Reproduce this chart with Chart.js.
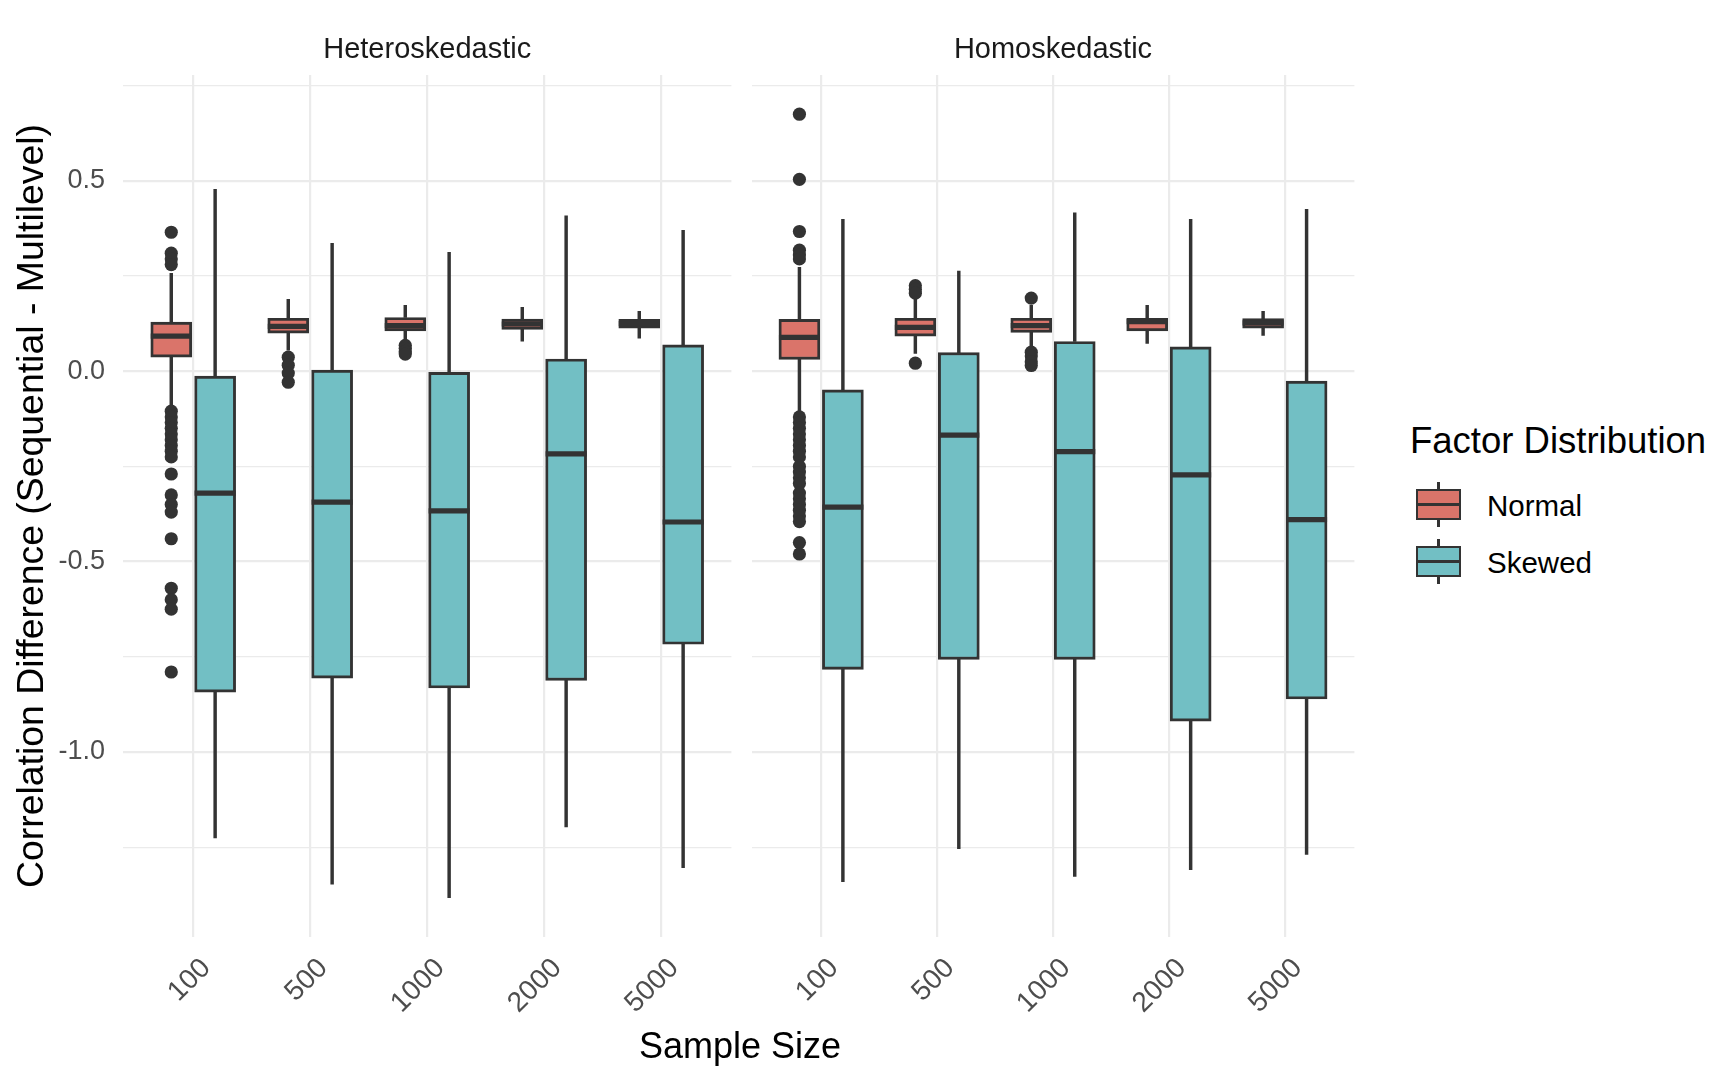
<!DOCTYPE html>
<html>
<head>
<meta charset="utf-8">
<script src="https://cdn.jsdelivr.net/npm/chart.js@4.4.0/dist/chart.umd.min.js"></script>
<style>
  body { margin: 0; background: #fff; }
  #page { position: relative; width: 1730px; height: 1072px; overflow: hidden; background: #fff;
          font-family: "Liberation Sans", Arial, sans-serif; }
  canvas { position: absolute; top: 0; }
  .txt { position: absolute; white-space: nowrap; color: #000; }
  #yTitle { left: -420px; top: 486px; width: 900px; height: 40px; line-height: 40px; font-size: 37.4px;
            text-align: center; transform: rotate(-90deg); }
  #xTitle { left: 0; top: 1028px; width: 1480px; font-size: 36px; line-height: 36px; text-align: center; }
  #legendTitle { left: 1410px; top: 423px; font-size: 36.5px; line-height: 36px; }
  .key { position: absolute; width: 45px; height: 45px; }
  .key .whisk { position: absolute; left: 21.2px; width: 2.8px; top: 0; height: 45px; background: #333; }
  .key .box { position: absolute; left: 0; top: 7px; width: 45px; height: 31px; box-sizing: border-box;
              border: 2.9px solid #333; }
  .key .mid { position: absolute; left: 0; width: 45px; top: 21px; height: 2.9px; background: #333; }
  .keyLabel { position: absolute; left: 1487px; font-size: 29.5px; line-height: 28px; }
</style>
</head>
<body>
<div id="page">
  <canvas id="heteroChart" width="738" height="1072" style="left:0"></canvas>
  <canvas id="homoChart" width="616" height="1072" style="left:745px"></canvas>
  <div class="txt" id="yTitle">Correlation Difference (Sequential - Multilevel)</div>
  <div class="txt" id="xTitle">Sample Size</div>
  <div class="txt" id="legendTitle">Factor Distribution</div>
</div>
<script>
const sampleSizes = ['100', '500', '1000', '2000', '5000'];
const groups = ['Normal', 'Skewed'];
const yBreaks = [-1.0, -0.5, 0.0, 0.5];
const yMinorBreaks = [-1.25, -0.75, -0.25, 0.25, 0.75];

// [lower whisker, Q1, median, Q3, upper whisker] for each sample size
const heteroNormal = [
  [-0.094, 0.037, 0.092, 0.129, 0.257],
  [0.055, 0.100, 0.118, 0.139, 0.189],
  [0.081, 0.106, 0.120, 0.141, 0.173],
  [0.079, 0.110, 0.124, 0.137, 0.168],
  [0.087, 0.113, 0.125, 0.136, 0.157]
];
const heteroSkewed = [
  [-1.226, -0.843, -0.320, -0.013, 0.478],
  [-1.347, -0.806, -0.344, 0.003, 0.336],
  [-1.383, -0.832, -0.367, -0.003, 0.312],
  [-1.197, -0.812, -0.217, 0.032, 0.408],
  [-1.304, -0.717, -0.396, 0.069, 0.370]
];
const homoNormal = [
  [-0.110, 0.031, 0.089, 0.136, 0.273],
  [0.047, 0.092, 0.115, 0.139, 0.195],
  [0.064, 0.102, 0.120, 0.139, 0.173],
  [0.073, 0.106, 0.130, 0.139, 0.173],
  [0.094, 0.113, 0.127, 0.138, 0.157]
];
const homoSkewed = [
  [-1.341, -0.783, -0.357, -0.049, 0.399],
  [-1.254, -0.757, -0.168, 0.049, 0.263],
  [-1.327, -0.757, -0.211, 0.078, 0.416],
  [-1.309, -0.919, -0.272, 0.064, 0.399],
  [-1.269, -0.861, -0.390, -0.026, 0.425]
];

// outlying points per sample size
const heteroNormalOutliers = [
  [0.365, 0.310, 0.295, 0.280, -0.105, -0.120, -0.135, -0.150, -0.165, -0.180, -0.195, -0.210, -0.225,
   -0.270, -0.325, -0.350, -0.370, -0.440, -0.570, -0.600, -0.625, -0.790],
  [0.037, 0.016, -0.005, -0.029],
  [0.068, 0.060, 0.052, 0.045],
  [],
  []
];
const homoNormalOutliers = [
  [0.675, 0.504, 0.367, 0.318, 0.305, 0.295, -0.120, -0.135, -0.150, -0.165, -0.180, -0.195, -0.210,
   -0.225, -0.250, -0.265, -0.280, -0.295, -0.320, -0.335, -0.350, -0.365, -0.380, -0.395, -0.450, -0.480],
  [0.225, 0.215, 0.205, 0.021],
  [0.192, 0.050, 0.040, 0.025, 0.015],
  [],
  []
];
const noOutliers = [[], [], [], [], []];

const FONT = '"Liberation Sans", Arial, sans-serif';
const fills = { Normal: '#DA746A', Skewed: '#72BFC4' };
const dodge = { Normal: -0.1875, Skewed: 0.1875 };
const INK = '#333333';
const Y_MIN = -1.486, Y_MAX = 0.778;

// median bars on top of the boxes
const medianLines = {
  id: 'medianLines',
  afterDatasetsDraw(chart) {
    const { ctx, scales: { y } } = chart;
    chart.data.datasets.forEach((ds, di) => {
      if (!ds.medians) return;
      chart.getDatasetMeta(di).data.forEach((bar, i) => {
        const py = y.getPixelForValue(ds.medians[i]);
        ctx.save();
        ctx.strokeStyle = INK;
        ctx.lineWidth = 5.2;
        ctx.beginPath();
        ctx.moveTo(bar.x - bar.width / 2, py);
        ctx.lineTo(bar.x + bar.width / 2, py);
        ctx.stroke();
        ctx.restore();
      });
    });
  }
};

// facet strip label above the panel
const panelStrip = {
  id: 'panelStrip',
  afterDraw(chart, args, opts) {
    const { ctx, chartArea } = chart;
    ctx.save();
    ctx.font = '29px ' + FONT;
    ctx.fillStyle = '#1a1a1a';
    ctx.textAlign = 'center';
    ctx.textBaseline = 'middle';
    ctx.fillText(opts.text, (chartArea.left + chartArea.right) / 2, chartArea.top - 25);
    ctx.restore();
  }
};

function groupDatasets(name, stats, outliers) {
  const shift = dodge[name];
  return [
    {
      type: 'bar', label: name + ' whiskers', order: 3,
      data: stats.flatMap((s, i) => [{ x: i + 1 + shift, y: [s[0], s[1]] }, { x: i + 1 + shift, y: [s[3], s[4]] }]),
      backgroundColor: INK, borderWidth: 0, barThickness: 2.8, grouped: false
    },
    {
      type: 'bar', label: name, order: 2,
      data: stats.map((s, i) => ({ x: i + 1 + shift, y: [s[1], s[3]] })),
      medians: stats.map(s => s[2]),
      backgroundColor: fills[name], borderColor: INK, borderWidth: 2.9, borderSkipped: false,
      barThickness: 41, grouped: false
    },
    {
      type: 'scatter', label: name + ' outliers', order: 1,
      data: outliers.flatMap((pts, i) => pts.map(v => ({ x: i + 1 + shift, y: v }))),
      backgroundColor: INK, borderWidth: 0, pointRadius: 6.6
    }
  ];
}

function makePanel(canvasId, title, normal, skewed, normalOut, skewedOut, yWidth) {
  new Chart(document.getElementById(canvasId), {
    type: 'bar',
    data: {
      datasets: [
        ...groupDatasets('Normal', normal, normalOut),
        ...groupDatasets('Skewed', skewed, skewedOut)
      ]
    },
    plugins: [medianLines, panelStrip],
    options: {
      responsive: false,
      animation: false,
      layout: { padding: { top: 75, left: 0, right: 0, bottom: 0 } },
      plugins: { legend: { display: false }, tooltip: { enabled: false }, panelStrip: { text: title } },
      scales: {
        x: {
          type: 'linear', min: 0.4, max: 5.6, offset: false,
          afterBuildTicks: s => { s.ticks = sampleSizes.map((_, i) => ({ value: i + 1 })); },
          afterFit: s => { s.height = 135; },
          border: { display: false },
          grid: { color: '#ebebeb', lineWidth: 2.2, drawTicks: false, offset: false },
          ticks: {
            autoSkip: false, minRotation: 45, maxRotation: 45, padding: 15, labelOffset: 13,
            color: '#4d4d4d', font: { size: 28, family: FONT },
            callback: v => sampleSizes[v - 1]
          }
        },
        y: {
          min: Y_MIN, max: Y_MAX,
          afterBuildTicks: s => {
            s.ticks = [...yMinorBreaks, ...yBreaks].sort((a, b) => a - b).map(v => ({ value: v }));
          },
          afterFit: s => { s.width = yWidth; },
          border: { display: false },
          grid: {
            color: '#ebebeb', drawTicks: false,
            lineWidth: c => yBreaks.includes(c.tick.value) ? 2.2 : 1.2
          },
          ticks: {
            display: yWidth > 0, padding: 18, color: '#4d4d4d', font: { size: 27, family: FONT },
            callback: v => yBreaks.includes(v) ? v.toFixed(1) : ''
          }
        }
      }
    }
  });
}

makePanel('heteroChart', 'Heteroskedastic', heteroNormal, heteroSkewed, heteroNormalOutliers, noOutliers, 123);
makePanel('homoChart', 'Homoskedastic', homoNormal, homoSkewed, homoNormalOutliers, noOutliers, 0);

// legend keys
const legendTops = [482, 539];
const page = document.getElementById('page');
groups.forEach((g, i) => {
  const key = document.createElement('div');
  key.className = 'key';
  key.style.left = '1416px';
  key.style.top = legendTops[i] + 'px';
  key.innerHTML = '<div class="whisk"></div><div class="box" style="background:' + fills[g] +
    '"></div><div class="mid"></div>';
  page.appendChild(key);
  const lab = document.createElement('div');
  lab.className = 'txt keyLabel';
  lab.style.top = (legendTops[i] + 10) + 'px';
  lab.textContent = g;
  page.appendChild(lab);
});
</script>
</body>
</html>
